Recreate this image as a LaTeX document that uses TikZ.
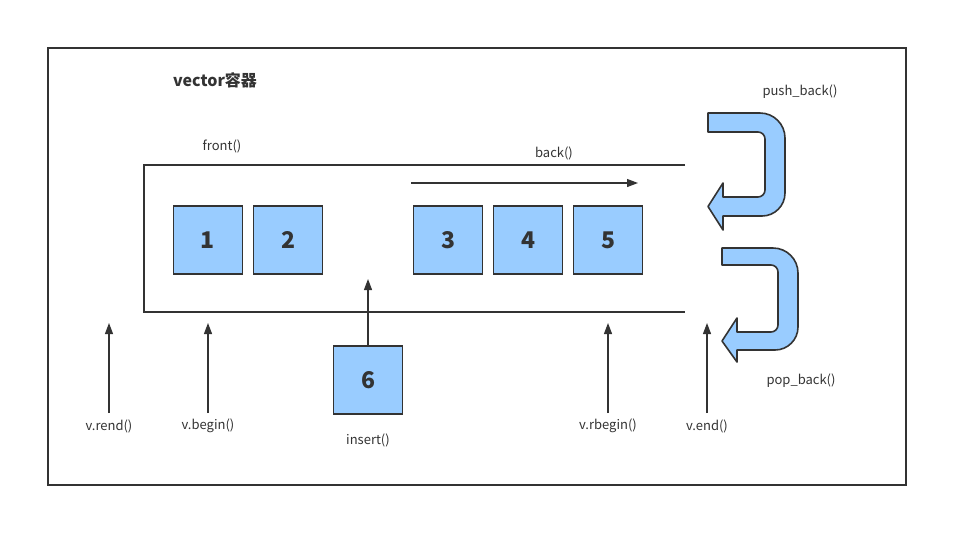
\documentclass[tikz,border=0pt]{standalone}
\usepackage{fontspec}
\setmainfont{Noto Sans CJK SC}
\usetikzlibrary{arrows.meta}
\definecolor{ink}{HTML}{333333}
\definecolor{cell}{HTML}{99CCFF}
\begin{document}
\begin{tikzpicture}[x=1pt,y=-1pt,
  cellbox/.style={draw=ink,fill=cell,line width=1.8pt,minimum width=69pt,minimum height=68pt,inner sep=0pt,font=\fontsize{23}{25}\selectfont\bfseries,text=ink},
  lbl/.style={font=\fontsize{13}{15}\selectfont,text=ink,inner sep=0pt},
  ptr/.style={draw=ink,line width=1.2pt,-{Triangle[length=11pt,width=8pt]}},
  bentarrow/.style={draw=ink,fill=cell,line width=1.6pt,line join=round}]
\useasboundingbox (0,0) rectangle (968,547);
% outer frame
\draw[ink,line width=1.2pt] (48,48) rectangle (906,485);
\node[font=\fontsize{16}{18}\selectfont\bfseries,text=ink,inner sep=0pt] (title) at (215,80) {vector容器};
% container
\draw[ink,line width=1.3pt] (685,165) -- (144,165) -- (144,312) -- (685,312);
% cells
\node[cellbox] (c1) at (208,240) {1};
\node[cellbox] (c2) at (288,240) {2};
\node[cellbox] (c3) at (448,240) {3};
\node[cellbox] (c4) at (528,240) {4};
\node[cellbox] (c5) at (608,240) {5};
\node[cellbox] (c6) at (368,380) {6};
% labels
\node[lbl] (front) at (222,146) {front()};
\node[lbl] (back) at (554,153) {back()};
\node[lbl] (push) at (800,92) {push\_back()};
\node[lbl] (pop) at (801,381) {pop\_back()};
\node[lbl] (rend) at (109,426) {v.rend()};
\node[lbl] (begin) at (208,426) {v.begin()};
\node[lbl] (ins) at (368,440) {insert()};
\node[lbl] (rbegin) at (608,426) {v.rbegin()};
\node[lbl] (vend) at (707,426) {v.end()};
% back arrow
\coordinate (bs) at (411,183);
\coordinate (be) at (638,183);
\draw[ptr] (bs) -- (be);
% pointer arrows
\coordinate (rendb) at (109,413);
\coordinate (beginb) at (208,413);
\coordinate (rbeginb) at (608,413);
\coordinate (vendb) at (707,413);
\coordinate (rendt) at (109,323);
\coordinate (begint) at (208,323);
\coordinate (inst) at (368,279);
\coordinate (rbegint) at (608,323);
\coordinate (vendt) at (707,323);
\draw[ptr] (rendb) -- (rendt);
\draw[ptr] (beginb) -- (begint);
\draw[ptr] (c6.north) -- (inst);
\draw[ptr] (rbeginb) -- (rbegint);
\draw[ptr] (vendb) -- (vendt);
% push_back bent arrow
\draw[bentarrow] (708,113) -- (760,113) arc[start angle=-90,end angle=0,radius=25]
  -- (785,193) arc[start angle=0,end angle=90,radius=23]
  -- (723,216) -- (723,230) -- (708,206.5) -- (723,183) -- (723,197)
  -- (758,197) arc[start angle=90,end angle=0,radius=7]
  -- (765,139) arc[start angle=0,end angle=-90,radius=7]
  -- (708,132) -- cycle;
% pop_back bent arrow
\draw[bentarrow] (722,248) -- (773,248) arc[start angle=-90,end angle=0,radius=25]
  -- (798,327) arc[start angle=0,end angle=90,radius=23]
  -- (737,350) -- (737,362) -- (722,341) -- (737,318) -- (737,332)
  -- (771,332) arc[start angle=90,end angle=0,radius=7]
  -- (778,272) arc[start angle=0,end angle=-90,radius=7]
  -- (722,265) -- cycle;
\end{tikzpicture}
\end{document}
